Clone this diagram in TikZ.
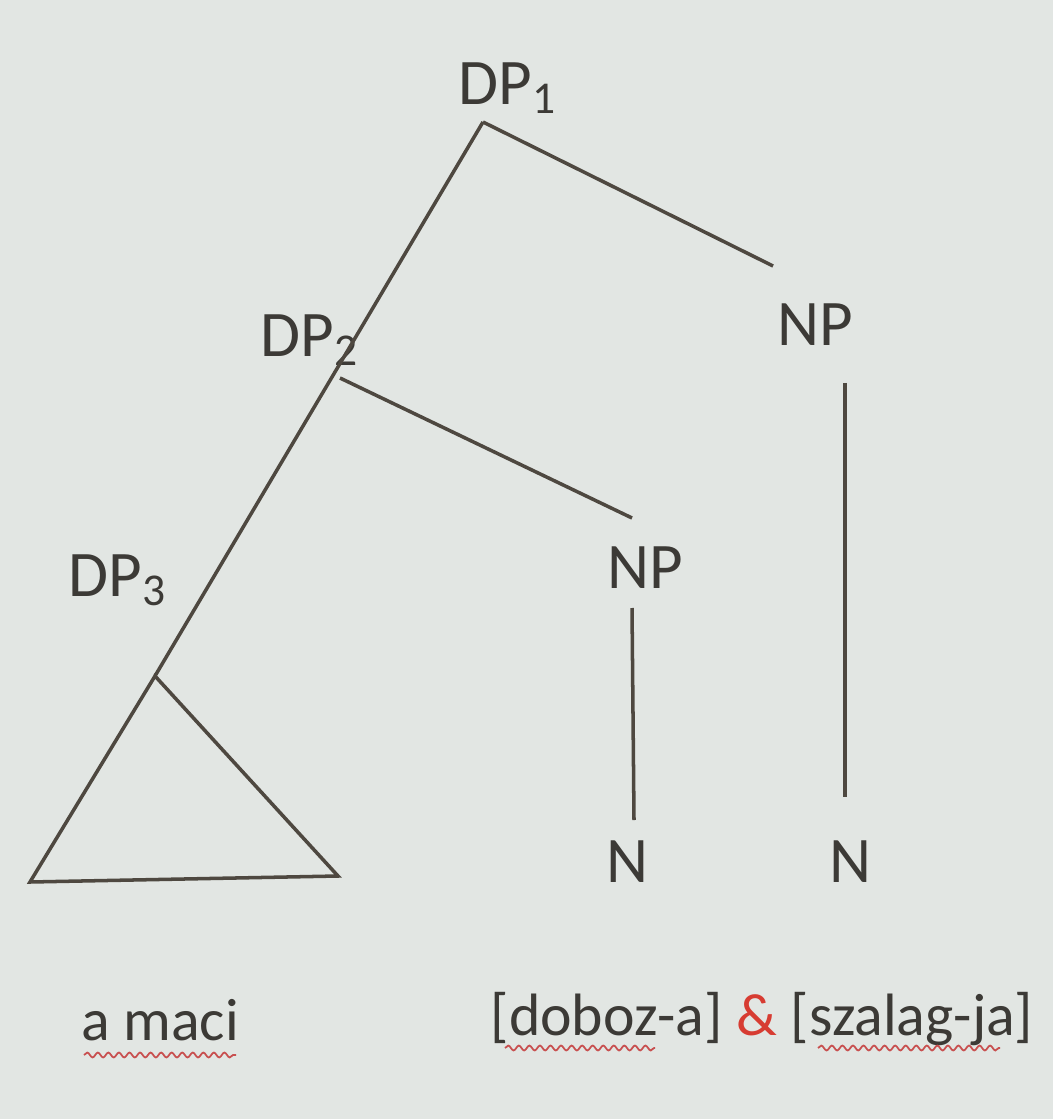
\documentclass[tikz,border=0pt]{standalone}
\usepackage{fontspec}
\setmainfont{Carlito}
\usepackage{xcolor}
\usetikzlibrary{positioning, decorations.pathmorphing}

\definecolor{screen}{RGB}{226,230,227}
\definecolor{ink}{RGB}{60,58,54}
\definecolor{branch}{RGB}{78,72,64}
\definecolor{amp}{RGB}{215,60,50}
\definecolor{wavy}{RGB}{200,80,80}

\newcommand{\idx}[1]{\textsubscript{#1}}

\tikzset{
  cat/.style={text=ink, font=\fontsize{18.5}{22}\selectfont, inner sep=1pt},
  word/.style={text=ink, font=\fontsize{17}{20}\selectfont, inner sep=1pt, anchor=base},
  edge/.style={draw=branch, line width=1pt},
  spell/.style={draw=wavy, line width=0.5pt, decorate,
    decoration={snake, amplitude=0.7pt, segment length=3pt}}
}

\begin{document}
\begin{tikzpicture}[x=0.01cm, y=-0.01cm]
        \useasboundingbox (0,0) rectangle (1053,1119);
        \fill[screen] (0,0) rectangle (1053,1119);

        % labels
        \node[cat] (dp1) at (508,88) {DP\idx{1}};
        \node[cat] (dp2) at (310,340) {DP\idx{2}};
        \node[cat] (dp3) at (118,580) {DP\idx{3}};
        \node[cat] (np1) at (815,325) {NP};
        \node[cat] (np2) at (645,568) {NP};
        \node[cat] (n1) at (850,862) {N};
        \node[cat] (n2) at (627,862) {N};

        % branch points
        \coordinate (top) at (483,122);
        \coordinate (np1top) at (773,266);
        \coordinate (mid) at (340,378);
        \coordinate (np2top) at (632,518);
        \coordinate (apex) at (155,676);
        \coordinate (tl) at (30,882);
        \coordinate (tr) at (338,876);
        \coordinate (np1bot) at (845,383);
        \coordinate (n1top) at (845,797);
        \coordinate (np2bot) at (632,608);
        \coordinate (n2top) at (634,820);

        \draw[edge] (top) -- (np1top);
        \draw[edge] (top) -- (apex);
        \draw[edge] (mid) -- (np2top);
        \draw[edge] (np1bot) -- (n1top);
        \draw[edge] (np2bot) -- (n2top);
        \draw[edge] (apex) -- (tl) -- (tr) -- cycle;

        % words
        \node[word] (amaci) at (160,1040) {a maci};
        \node[word] (coord) at (762,1035) {[doboz-a] {\color{amp}\&} [szalag-ja]};

        \draw[spell] (84,1055) -- (236,1055);
        \draw[spell] (505,1048) -- (655,1048);
        \draw[spell] (818,1048) -- (1000,1048);
      \end{tikzpicture}
\end{document}
